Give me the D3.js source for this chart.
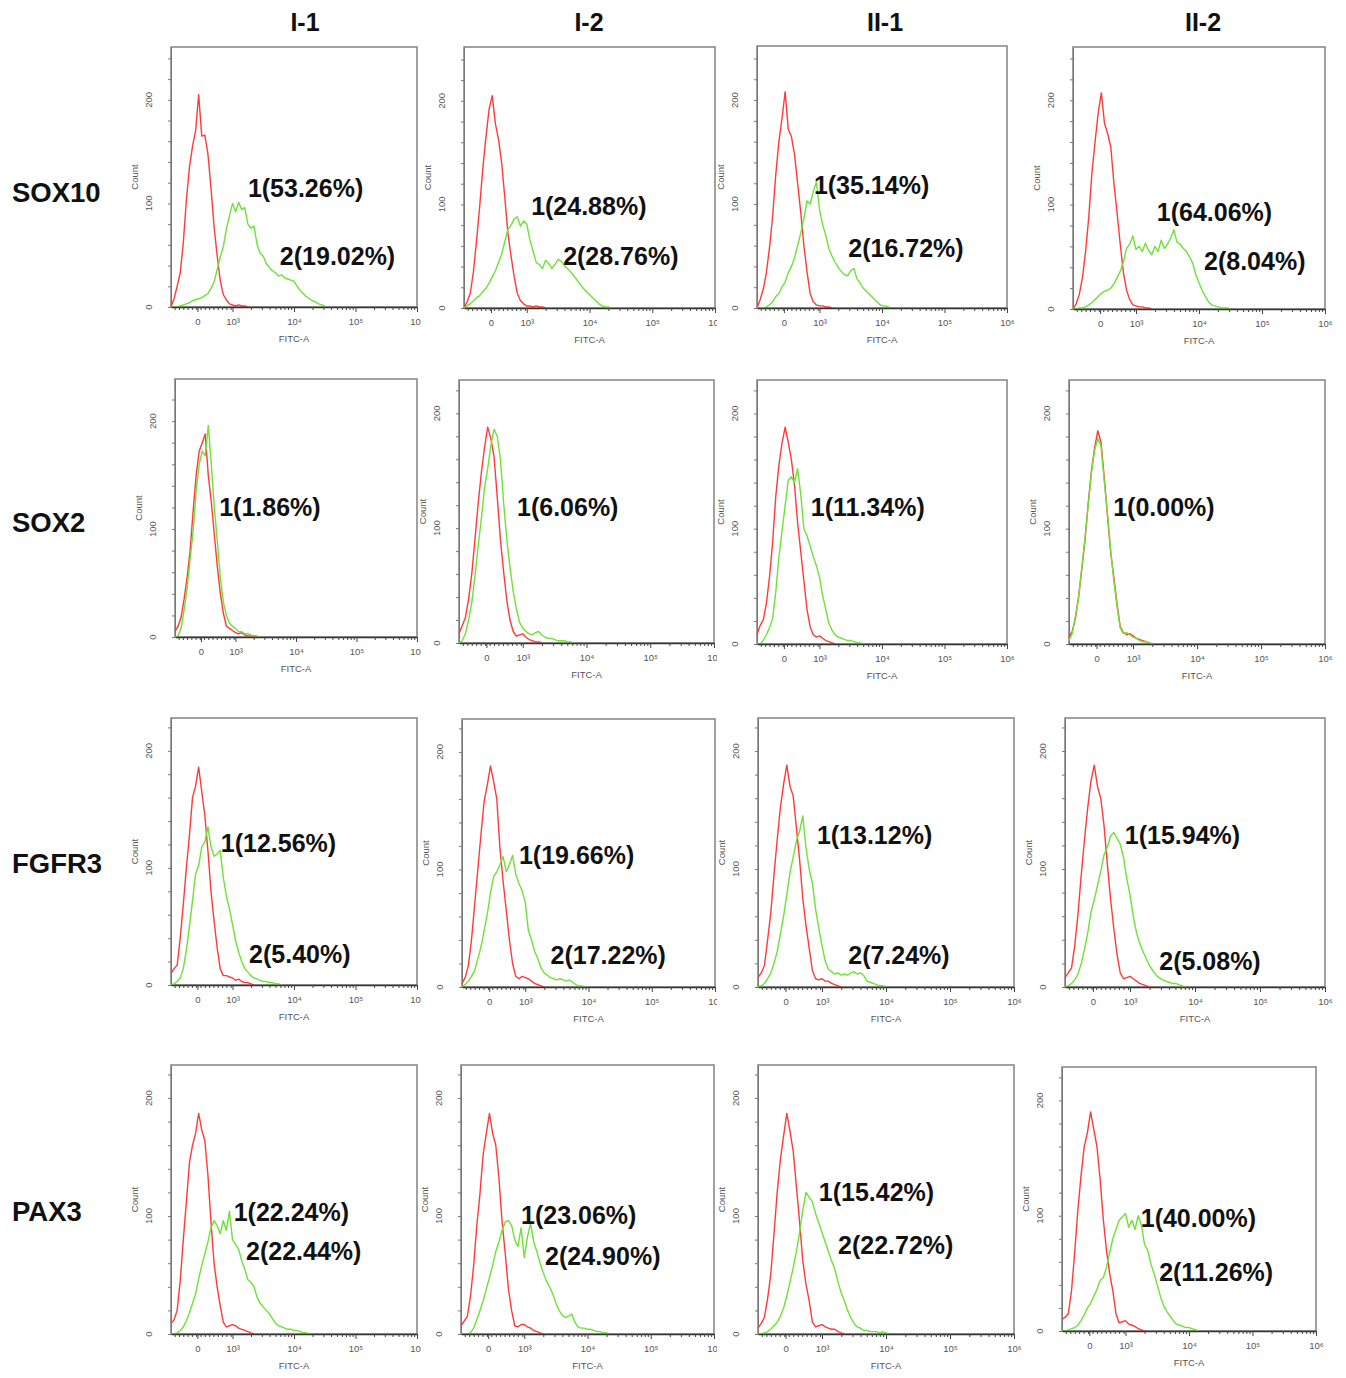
<!DOCTYPE html>
<html><head><meta charset="utf-8">
<script src="https://cdn.jsdelivr.net/npm/d3@7"></script>
<style>body{margin:0;background:#fff}</style>
</head><body>
<svg id="chart" width="1346" height="1378"></svg>
<script>
// ---------------- DATA ----------------
const markers = ["SOX10", "SOX2", "FGFR3", "PAX3"];
const samples = ["I-1", "I-2", "II-1", "II-2"];

// histogram bin centres on the FITC-A display axis (decade units: 3 = 10^3, 4 = 10^4 ...)
const xGrid = [2.00,2.05,2.10,2.15,2.20,2.25,2.30,2.35,2.40,2.45,2.50,2.55,2.60,2.65,2.70,2.75,2.80,2.85,2.90,2.95,
               3.00,3.05,3.10,3.15,3.20,3.25,3.30,3.35,3.40,3.45,3.50,3.55,3.60,3.65,3.70,3.75,3.80,3.85,3.90,3.95,
               4.00,4.05,4.10,4.15,4.20,4.25,4.30,4.35,4.40,4.45,4.50];

const xTickValues = [2.43, 3, 4, 5, 6];
const xTickLabels = ["0", "10³", "10⁴", "10⁵", "10⁶"];
const yTickLabels = [0, 100, 200];

// control (red) and stained (green) counts per sample, I-1, I-2, II-1, II-2
const sox10Control = [
  [0,8,20,33,62,103,135,155,170,205,165,166,148,115,78,50,26,12,7,3,2,1,2,1,1,0],
  [0,6,14,35,65,98,135,165,192,205,178,163,140,107,72,50,30,14,7,4,2,2,1,2,1,1,0],
  [0,8,18,34,58,88,128,160,182,208,172,165,148,120,92,60,35,14,6,3,2,2,1,1,0],
  [0,5,14,30,55,88,130,160,188,207,178,168,155,120,92,62,35,18,9,4,3,2,2,1,1,0]
];
const sox10Stained = [
  [0,0,0,1,2,3,4,6,7,8,9,11,13,18,24,36,48,58,75,88,100,92,101,94,96,80,76,78,60,52,49,42,38,35,33,30,31,28,27,26,25,20,16,13,10,8,6,5,3,2,1],
  [0,2,4,7,10,12,16,19,24,30,36,44,52,64,76,80,86,88,79,84,81,66,55,44,42,38,46,43,38,42,47,45,41,38,35,31,27,23,19,16,13,10,7,4,2,1,1,0],
  [0,0,0,1,3,6,11,14,20,25,34,40,48,60,72,86,103,100,112,121,95,80,70,57,50,44,39,35,32,31,36,38,28,24,19,16,13,10,7,4,2,2,1,0],
  [0,0,1,1,2,4,6,9,12,15,17,18,20,24,30,36,45,58,62,70,57,60,55,63,56,52,60,55,66,58,62,68,76,64,62,58,55,50,44,33,25,18,12,7,4,3,2,1,1,1,0]
];
const sox2Control = [
  [5,10,18,35,55,80,117,150,172,180,188,150,125,95,65,40,22,10,8,6,4,3,4,2,1,1,1,0],
  [8,15,22,38,60,90,121,148,170,188,178,162,127,90,62,37,20,10,6,7,8,5,3,2,1,1,0],
  [8,16,21,35,58,88,128,155,174,188,175,160,138,105,80,55,30,15,8,6,7,5,3,2,1,0],
  [6,11,22,41,65,90,122,150,170,185,175,145,112,80,58,35,15,10,8,9,7,5,4,3,2,1,0]
];
const sox2Stained = [
  [0,1,8,25,45,72,98,135,160,172,168,196,160,120,88,55,32,20,13,10,8,5,5,3,3,2,1,1,0],
  [0,2,8,20,35,58,84,108,135,152,172,186,180,160,122,90,66,45,30,18,13,10,8,7,9,10,7,5,4,4,3,2,2,2,1,1,0],
  [0,0,3,8,14,22,45,75,98,120,142,145,140,152,130,100,94,85,76,68,58,42,30,18,12,8,6,5,4,3,3,2,1,1,0],
  [3,9,24,40,66,92,120,148,168,178,172,142,114,82,55,33,14,9,10,8,6,5,3,2,2,1,0]
];
const fgfr3Control = [
  [10,14,17,40,69,100,128,160,170,186,165,145,115,80,55,32,14,8,8,7,6,4,5,3,2,2,1,0],
  [3,8,18,40,70,100,130,158,172,188,175,160,118,90,65,40,20,9,7,9,8,7,5,3,2,1,0],
  [8,12,18,40,63,95,125,152,172,188,170,162,135,108,75,52,33,14,7,6,7,5,5,3,2,1,0],
  [8,12,16,35,62,95,125,152,175,188,170,160,137,105,75,50,28,12,7,8,9,7,5,3,2,1,0]
];
const fgfr3Stained = [
  [0,1,3,6,14,30,50,72,95,102,118,122,135,118,110,112,115,92,76,65,52,38,28,20,14,11,8,6,5,4,3,3,2,2,1,1,0],
  [0,2,5,9,14,24,34,48,62,80,94,98,104,111,98,104,112,96,88,82,72,48,40,30,24,16,12,10,8,7,6,7,6,5,6,4,2,1,1,0],
  [0,1,3,7,12,20,30,45,60,78,97,110,124,132,145,118,100,88,66,50,35,22,15,13,11,12,10,11,10,12,13,11,12,10,5,4,3,2,1,1,0],
  [0,1,3,6,11,20,32,46,63,74,86,98,112,118,128,131,126,121,110,92,78,60,46,37,30,24,18,14,10,8,6,5,4,3,3,2,1,0]
];
const pax3Control = [
  [9,12,20,45,80,112,145,160,170,187,173,164,135,95,60,40,24,10,6,7,8,7,5,4,3,2,1,0],
  [7,11,15,32,58,92,119,152,170,187,170,160,132,95,68,38,20,7,6,8,8,6,5,3,2,1,0],
  [5,9,14,30,51,85,120,148,168,187,172,155,125,95,62,42,28,10,6,7,8,6,5,4,4,2,1,0],
  [10,12,15,35,68,105,135,160,172,190,175,160,132,97,70,50,35,15,7,8,9,6,5,4,2,1,0]
];
const pax3Stained = [
  [0,0,1,3,6,11,18,26,34,47,58,68,78,90,96,92,85,96,88,104,80,76,72,62,55,46,44,40,31,26,23,20,17,13,9,7,6,5,4,4,3,3,2,1,1,0],
  [0,0,0,1,5,12,20,28,38,48,58,70,78,88,95,96,92,80,74,90,65,82,94,78,70,60,52,45,40,34,26,20,16,14,15,17,10,6,5,5,4,4,3,2,2,1,1,0],
  [0,0,1,2,4,7,10,15,22,32,44,56,70,86,105,120,116,112,102,94,86,78,70,62,55,44,35,28,20,14,9,6,5,3,3,2,2,2,1,2,1,0],
  [0,0,1,2,3,5,9,14,20,24,30,36,44,46,55,68,80,88,96,99,102,90,96,88,100,92,75,70,58,50,40,30,22,17,13,9,6,5,4,3,3,2,1,0]
];

const sox10Gates = [["1(53.26%)","2(19.02%)"],["1(24.88%)","2(28.76%)"],["1(35.14%)","2(16.72%)"],["1(64.06%)","2(8.04%)"]];
const sox2Gates  = [["1(1.86%)"],["1(6.06%)"],["1(11.34%)"],["1(0.00%)"]];
const fgfr3Gates = [["1(12.56%)","2(5.40%)"],["1(19.66%)","2(17.22%)"],["1(13.12%)","2(7.24%)"],["1(15.94%)","2(5.08%)"]];
const pax3Gates  = [["1(22.24%)","2(22.44%)"],["1(23.06%)","2(24.90%)"],["1(15.42%)","2(22.72%)"],["1(40.00%)","2(11.26%)"]];

const controls = [sox10Control, sox2Control, fgfr3Control, pax3Control];
const stained  = [sox10Stained, sox2Stained, fgfr3Stained, pax3Stained];
const gates    = [sox10Gates, sox2Gates, fgfr3Gates, pax3Gates];

// ---------------- LAYOUT ----------------
// panel frame: [left, right, top, baseline, yMax]
const layout = [
  [[171,417,47,307,251],[464,715,47,308,252],[757,1007,46,308,252],[1073,1325,47,309,251]],
  [[175,417,379,637,239],[459,714,380,643,229],[757,1007,380,644,229],[1069,1325,380,644,229]],
  [[171,417,718,985,228],[462,715,719,987,228],[758,1014,718,987,228],[1065,1325,718,987,228]],
  [[171,417,1065,1334,228],[461,714,1065,1334,228],[758,1014,1065,1334,228],[1062,1316,1067,1331,229]]
];
const clipRight = [421, 717, 1024, 1346];
// gate-label anchors in data units [display x, count]
const gateLabelAt = [
  [[[3.25,115],[3.77,49]],[[3.07,98],[3.58,50]],[[2.91,118],[3.46,57]],[[3.33,93],[4.08,46]]],
  [[[2.73,120]],[[2.91,118]],[[2.86,119]],[[2.69,119]]],
  [[[2.81,121],[3.27,26]],[[2.90,112],[3.40,27]],[[2.92,129],[3.41,27]],[[2.92,129],[3.45,22]]],
  [[[3.02,103],[3.22,70]],[[2.95,101],[3.33,66]],[[2.95,120],[3.25,75]],[[3.24,98],[3.53,51]]]
];
const rowLabelY = [192, 522, 863, 1211];
const colHeaderX = [305, 589, 885, 1203];

const FONT = "'Liberation Sans', Arial, Helvetica, sans-serif";
const RED = "#ff3a3a", GREEN = "#6ee236";

const svg = d3.select("#chart");
const defs = svg.append("defs");

// headers
svg.selectAll("text.col").data(samples).join("text")
  .attr("x", (d,i) => colHeaderX[i]).attr("y", 22).attr("dy", "0.35em")
  .attr("text-anchor", "middle").attr("font-family", FONT).attr("font-weight", "bold")
  .attr("font-size", 25).attr("fill", "#111").text(d => d);
svg.selectAll("text.row").data(markers).join("text")
  .attr("x", 12).attr("y", (d,i) => rowLabelY[i]).attr("dy", "0.35em")
  .attr("font-family", FONT).attr("font-weight", "bold")
  .attr("font-size", 27.5).attr("fill", "#111").text(d => d);

// minor tick positions of the biexponential axis
const minorTicks = [];
for (let v = 2.06; v < 2.97; v += 0.07) minorTicks.push(v);
[3,4,5].forEach(k => { for (let m = 2; m <= 9; m++) minorTicks.push(k + Math.log10(m)); });

markers.forEach((mk, r) => {
  samples.forEach((sm, c) => {
    const [L, R, T, B, yMax] = layout[r][c];
    const x = d3.scaleLinear().domain([2, 6]).range([L, R]);
    const y = d3.scaleLinear().domain([0, yMax]).range([B, T]);
    const id = `clip-${r}-${c}`;
    defs.append("clipPath").attr("id", id).append("rect")
      .attr("x", L - 60).attr("y", T - 10).attr("width", clipRight[c] - (L - 60)).attr("height", B - T + 60);
    const g = svg.append("g").attr("clip-path", `url(#${id})`);

    g.append("rect").attr("x", L).attr("y", T).attr("width", R - L).attr("height", B - T)
      .attr("fill", "#fff").attr("stroke", "#8a8a8a").attr("stroke-width", 1.6);

    // y axis ticks
    const yTicks = d3.range(0, yMax + 1, 20);
    const yAx = g.append("g").attr("transform", `translate(${L},0)`)
      .call(d3.axisLeft(y).tickValues(yTicks).tickSize(3).tickSizeOuter(0).tickFormat(""));
    yAx.select(".domain").attr("stroke", "#777");
    yAx.selectAll(".tick line").attr("stroke", "#777");
    g.selectAll(null).data(yTickLabels).join("text")
      .attr("transform", d => `translate(${L - 19},${y(d)}) rotate(-90)`)
      .attr("text-anchor", "middle").attr("font-family", FONT).attr("font-size", 9.5)
      .attr("fill", "#555").text(d => d);
    g.append("text").attr("transform", `translate(${L - 33},${(T + B) / 2}) rotate(-90)`)
      .attr("text-anchor", "middle").attr("font-family", FONT).attr("font-size", 9.5)
      .attr("fill", "#555").text("Count");

    // histograms
    const line = d3.line().x((d, i) => x(xGrid[i])).y(d => y(d));
    g.append("path").datum(controls[r][c]).attr("d", line)
      .attr("fill", "none").attr("stroke", RED).attr("stroke-width", 1.4).attr("stroke-linejoin", "round");
    g.append("path").datum(stained[r][c]).attr("d", line)
      .attr("fill", "none").attr("stroke", GREEN).attr("stroke-width", 1.4).attr("stroke-linejoin", "round");

    // x axis
    const xMinor = g.append("g").attr("transform", `translate(0,${B})`)
      .call(d3.axisBottom(x).tickValues(minorTicks).tickSize(3).tickSizeOuter(0).tickFormat(""));
    xMinor.select(".domain").attr("stroke", "#333").attr("stroke-width", 1.3);
    xMinor.selectAll(".tick line").attr("stroke", "#444");
    const xMajor = g.append("g").attr("transform", `translate(0,${B})`)
      .call(d3.axisBottom(x).tickValues(xTickValues).tickSize(5).tickSizeOuter(0)
        .tickFormat((d, i) => xTickLabels[i]));
    xMajor.select(".domain").remove();
    xMajor.selectAll(".tick line").attr("stroke", "#444");
    xMajor.selectAll(".tick text").attr("font-family", FONT).attr("font-size", 9.5)
      .attr("fill", "#555").attr("y", 11);
    g.append("text").attr("x", (L + R) / 2).attr("y", B + 35).attr("text-anchor", "middle")
      .attr("font-family", FONT).attr("font-size", 9.5).attr("fill", "#555").text("FITC-A");

    // gate labels
    const gl = gates[r][c];
    gl.forEach((txt, k) => {
      const [gx, gy] = gateLabelAt[r][c][k];
      svg.append("text").attr("x", x(gx)).attr("y", y(gy)).attr("dy", "0.35em")
        .attr("font-family", FONT).attr("font-weight", "bold").attr("font-size", 25)
        .attr("fill", "#111").text(txt);
    });
  });
});
</script>
</body></html>
